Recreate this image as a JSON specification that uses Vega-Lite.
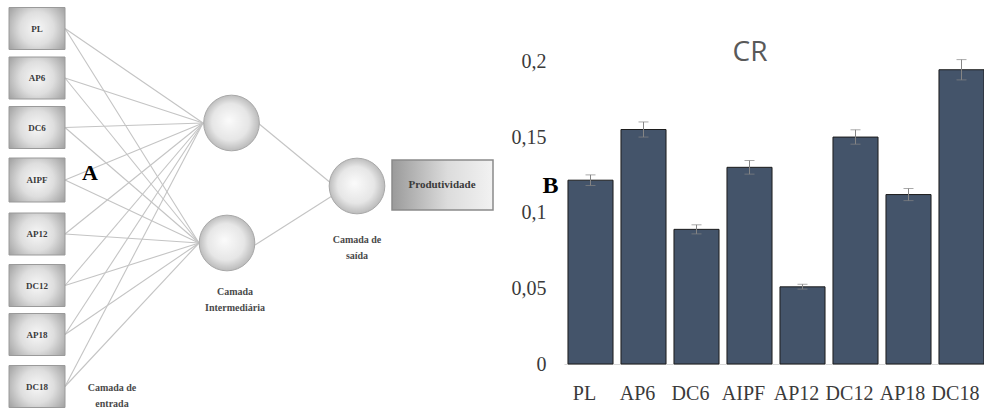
{
  "$schema": "https://vega.github.io/schema/vega-lite/v6.json",
  "padding": 0,
  "bounds": "flush",
  "spacing": 64,
  "config": {"view": {"stroke": null}},
  "hconcat": [
    {
      "width": 500,
      "height": 409,
      "layer": [
        {
          "data": {"values": [
            {"x": 65, "y": 28.5, "x2": 203, "y2": 123}, {"x": 65, "y": 28.5, "x2": 199, "y2": 243},
            {"x": 65, "y": 78, "x2": 203, "y2": 123}, {"x": 65, "y": 78, "x2": 199, "y2": 243},
            {"x": 65, "y": 127.5, "x2": 203, "y2": 123}, {"x": 65, "y": 127.5, "x2": 199, "y2": 243},
            {"x": 65, "y": 180, "x2": 203, "y2": 123}, {"x": 65, "y": 180, "x2": 199, "y2": 243},
            {"x": 65, "y": 234, "x2": 203, "y2": 123}, {"x": 65, "y": 234, "x2": 199, "y2": 243},
            {"x": 65, "y": 285.5, "x2": 203, "y2": 123}, {"x": 65, "y": 285.5, "x2": 199, "y2": 243},
            {"x": 65, "y": 334.5, "x2": 203, "y2": 123}, {"x": 65, "y": 334.5, "x2": 199, "y2": 243},
            {"x": 65, "y": 386.5, "x2": 203, "y2": 123}, {"x": 65, "y": 386.5, "x2": 199, "y2": 243},
            {"x": 258, "y": 123, "x2": 332, "y2": 184}, {"x": 255, "y": 245, "x2": 332, "y2": 196}
          ]},
          "mark": {"type": "rule", "color": "#c4c4c4", "strokeWidth": 1.1},
          "encoding": {
            "x": {"field": "x", "type": "quantitative", "scale": {"domain": [0, 500], "nice": false, "zero": false}, "axis": null},
            "x2": {"field": "x2"},
            "y": {"field": "y", "type": "quantitative", "scale": {"domain": [0, 409], "nice": false, "zero": false, "reverse": true}, "axis": null},
            "y2": {"field": "y2"}
          }
        },
        {
          "data": {"values": [
            {"label": "PL", "x": 9, "x2": 65, "y": 7.5, "y2": 49.5},
            {"label": "AP6", "x": 9, "x2": 65, "y": 57, "y2": 99},
            {"label": "DC6", "x": 9, "x2": 65, "y": 106.5, "y2": 148.5},
            {"label": "AIPF", "x": 9, "x2": 65, "y": 158, "y2": 202},
            {"label": "AP12", "x": 9, "x2": 65, "y": 213, "y2": 255},
            {"label": "DC12", "x": 9, "x2": 65, "y": 264.5, "y2": 306.5},
            {"label": "AP18", "x": 9, "x2": 65, "y": 313.5, "y2": 355.5},
            {"label": "DC18", "x": 9, "x2": 65, "y": 365.5, "y2": 407.5}
          ]},
          "mark": {
            "type": "rect",
            "stroke": "#9a9a9a",
            "strokeWidth": 1,
            "fill": {"gradient": "radial", "x1": 0.5, "y1": 0.5, "r1": 0, "x2": 0.5, "y2": 0.5, "r2": 0.75,
              "stops": [{"offset": 0, "color": "#f7f7f7"}, {"offset": 0.4, "color": "#dedede"}, {"offset": 1, "color": "#878787"}]}
          },
          "encoding": {
            "x": {"field": "x", "type": "quantitative", "scale": {"domain": [0, 500], "nice": false, "zero": false}, "axis": null},
            "x2": {"field": "x2"},
            "y": {"field": "y", "type": "quantitative", "scale": {"domain": [0, 409], "nice": false, "zero": false, "reverse": true}, "axis": null},
            "y2": {"field": "y2"}
          }
        },
        {
          "data": {"values": [
            {"label": "PL", "x": 37, "y": 28.5},
            {"label": "AP6", "x": 37, "y": 78},
            {"label": "DC6", "x": 37, "y": 127.5},
            {"label": "AIPF", "x": 37, "y": 180},
            {"label": "AP12", "x": 37, "y": 234},
            {"label": "DC12", "x": 37, "y": 285.5},
            {"label": "AP18", "x": 37, "y": 334.5},
            {"label": "DC18", "x": 37, "y": 386.5}
          ]},
          "mark": {"type": "text", "font": "Liberation Serif", "fontSize": 9, "fontWeight": "bold", "color": "#3a3a3a", "baseline": "middle", "align": "center"},
          "encoding": {
            "x": {"field": "x", "type": "quantitative", "scale": {"domain": [0, 500], "nice": false, "zero": false}, "axis": null},
            "y": {"field": "y", "type": "quantitative", "scale": {"domain": [0, 409], "nice": false, "zero": false, "reverse": true}, "axis": null},
            "text": {"field": "label"}
          }
        },
        {
          "data": {"values": [
            {"node": "h1", "x": 231.5, "y": 123},
            {"node": "h2", "x": 227, "y": 243},
            {"node": "out", "x": 357, "y": 186}
          ]},
          "mark": {
            "type": "point", "shape": "circle", "filled": true, "size": 3100, "opacity": 1,
            "stroke": "#a8a8a8", "strokeWidth": 1,
            "fill": {"gradient": "radial", "x1": 0.45, "y1": 0.45, "r1": 0, "x2": 0.5, "y2": 0.5, "r2": 0.55,
              "stops": [{"offset": 0, "color": "#fbfbfb"}, {"offset": 0.6, "color": "#e6e6e6"}, {"offset": 1, "color": "#b0b0b0"}]}
          },
          "encoding": {
            "x": {"field": "x", "type": "quantitative", "scale": {"domain": [0, 500], "nice": false, "zero": false}, "axis": null},
            "y": {"field": "y", "type": "quantitative", "scale": {"domain": [0, 409], "nice": false, "zero": false, "reverse": true}, "axis": null}
          }
        },
        {
          "data": {"values": [{"label": "Produtividade", "x": 392, "x2": 493, "y": 160, "y2": 210}]},
          "mark": {
            "type": "rect", "stroke": "#8a8a8a", "strokeWidth": 1.5,
            "fill": {"gradient": "linear", "x1": 0, "y1": 0, "x2": 1, "y2": 0,
              "stops": [{"offset": 0, "color": "#9a9a9a"}, {"offset": 0.55, "color": "#dcdcdc"}, {"offset": 1, "color": "#f2f2f2"}]}
          },
          "encoding": {
            "x": {"field": "x", "type": "quantitative", "scale": {"domain": [0, 500], "nice": false, "zero": false}, "axis": null},
            "x2": {"field": "x2"},
            "y": {"field": "y", "type": "quantitative", "scale": {"domain": [0, 409], "nice": false, "zero": false, "reverse": true}, "axis": null},
            "y2": {"field": "y2"}
          }
        },
        {
          "data": {"values": [{"label": "Produtividade", "x": 442, "y": 185}]},
          "mark": {"type": "text", "font": "Liberation Serif", "fontSize": 11, "fontWeight": "bold", "color": "#3a3a3a", "baseline": "middle", "align": "center"},
          "encoding": {
            "x": {"field": "x", "type": "quantitative", "scale": {"domain": [0, 500], "nice": false, "zero": false}, "axis": null},
            "y": {"field": "y", "type": "quantitative", "scale": {"domain": [0, 409], "nice": false, "zero": false, "reverse": true}, "axis": null},
            "text": {"field": "label"}
          }
        },
        {
          "data": {"values": [
            {"label": "Camada\nIntermediária", "x": 235, "y": 292},
            {"label": "Camada de\nsaída", "x": 357, "y": 240},
            {"label": "Camada de\nentrada", "x": 112, "y": 388}
          ]},
          "mark": {"type": "text", "font": "Liberation Serif", "fontSize": 10, "fontWeight": "bold", "color": "#4a4a4a", "baseline": "middle", "align": "center", "lineBreak": "\n", "lineHeight": 16},
          "encoding": {
            "x": {"field": "x", "type": "quantitative", "scale": {"domain": [0, 500], "nice": false, "zero": false}, "axis": null},
            "y": {"field": "y", "type": "quantitative", "scale": {"domain": [0, 409], "nice": false, "zero": false, "reverse": true}, "axis": null},
            "text": {"field": "label"}
          }
        },
        {
          "data": {"values": [{"label": "A", "x": 90, "y": 173}]},
          "mark": {"type": "text", "font": "Liberation Serif", "fontSize": 22, "fontWeight": "bold", "color": "#000000", "baseline": "middle", "align": "center"},
          "encoding": {
            "x": {"field": "x", "type": "quantitative", "scale": {"domain": [0, 500], "nice": false, "zero": false}, "axis": null},
            "y": {"field": "y", "type": "quantitative", "scale": {"domain": [0, 409], "nice": false, "zero": false, "reverse": true}, "axis": null},
            "text": {"field": "label"}
          }
        }
      ]
    },
    {
      "width": 424,
      "height": 364,
      "title": {
        "text": "CR", "font": "Open Sans", "fontSize": 28, "fontWeight": "normal", "color": "#595959",
        "anchor": "middle", "frame": "group", "baseline": "alphabetic", "offset": -89, "dx": -26
      },
      "data": {"values": [
        {"cat": "PL", "value": 0.1215, "lo": 0.118, "hi": 0.125},
        {"cat": "AP6", "value": 0.155, "lo": 0.150, "hi": 0.160},
        {"cat": "DC6", "value": 0.089, "lo": 0.086, "hi": 0.092},
        {"cat": "AIPF", "value": 0.130, "lo": 0.1255, "hi": 0.1345},
        {"cat": "AP12", "value": 0.051, "lo": 0.0495, "hi": 0.0527},
        {"cat": "DC12", "value": 0.150, "lo": 0.1453, "hi": 0.1548},
        {"cat": "AP18", "value": 0.112, "lo": 0.108, "hi": 0.116},
        {"cat": "DC18", "value": 0.1945, "lo": 0.1878, "hi": 0.2012}
      ]},
      "layer": [
        {
          "mark": {"type": "bar", "color": "#44546A", "stroke": "#1c1c1c", "strokeWidth": 1},
          "encoding": {
            "x": {
              "field": "cat", "type": "nominal", "sort": null,
              "scale": {"paddingInner": 0.15, "paddingOuter": 0.075},
              "axis": {
                "title": null, "labelAngle": 0, "ticks": false, "domain": true, "domainColor": "#d9d9d9", "domainWidth": 1,
                "labelFont": "Liberation Serif", "labelFontSize": 20, "labelColor": "#3a3a3a", "labelPadding": 19, "labelOffset": -6
              }
            },
            "y": {
              "field": "value", "type": "quantitative",
              "scale": {"domain": [0, 0.2406], "nice": false, "zero": true},
              "axis": {
                "title": null, "values": [0, 0.05, 0.1, 0.15, 0.2], "grid": false, "domain": false, "ticks": false, "tickSize": 0,
                "labelExpr": "replace(format(datum.value, '~r'), '.', ',')",
                "labelFont": "Liberation Serif", "labelFontSize": 20, "labelColor": "#3a3a3a", "labelPadding": 18
              }
            }
          }
        },
        {
          "mark": {"type": "rule", "color": "#858585", "strokeWidth": 1},
          "encoding": {
            "x": {"field": "cat", "type": "nominal", "sort": null},
            "y": {"field": "lo", "type": "quantitative"},
            "y2": {"field": "hi"}
          }
        },
        {
          "mark": {"type": "tick", "color": "#858585", "size": 10, "thickness": 1},
          "encoding": {
            "x": {"field": "cat", "type": "nominal", "sort": null},
            "y": {"field": "hi", "type": "quantitative"}
          }
        },
        {
          "mark": {"type": "tick", "color": "#858585", "size": 10, "thickness": 1},
          "encoding": {
            "x": {"field": "cat", "type": "nominal", "sort": null},
            "y": {"field": "lo", "type": "quantitative"}
          }
        },
        {
          "data": {"values": [{"cat": "PL", "value": 0.1177, "label": "B"}]},
          "mark": {"type": "text", "font": "Liberation Serif", "fontSize": 24, "fontWeight": "bold", "color": "#000000", "baseline": "middle", "align": "center", "dx": -40},
          "encoding": {
            "x": {"field": "cat", "type": "nominal", "sort": null},
            "y": {"field": "value", "type": "quantitative"},
            "text": {"field": "label"}
          }
        }
      ]
    }
  ]
}
